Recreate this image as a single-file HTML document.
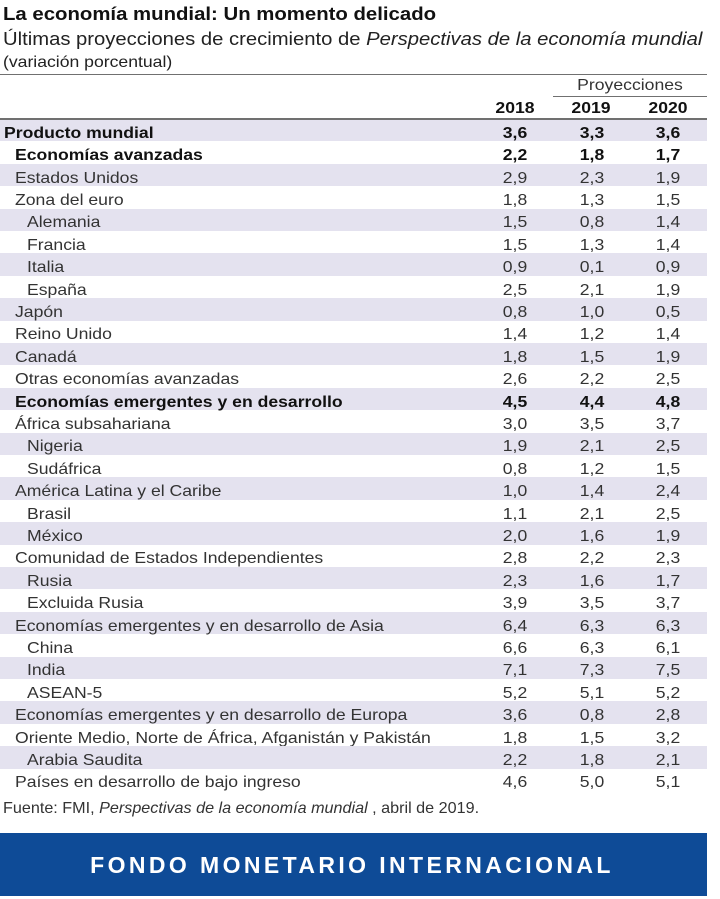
<!DOCTYPE html>
<html>
<head>
<meta charset="utf-8">
<style>
html,body{margin:0;padding:0;background:#fff;}
body{width:720px;height:899px;position:relative;overflow:hidden;font-family:"Liberation Sans",Arial,sans-serif;color:#333;}
.a{position:absolute;white-space:nowrap;line-height:1;}
.sx{transform:scaleX(1.1);transform-origin:0 0;}
.c{transform:translateX(-50%) scaleX(1.1);transform-origin:50% 0;}
.b{font-weight:bold;color:#111;}
.line{position:absolute;background:#707070;}
.banner{position:absolute;left:0;top:833px;width:707px;height:63px;background:#0e4b97;}
.r{position:absolute;left:0;width:707px;height:22.4px;font-size:16px;}
.s{background:#e4e2ef;}
.r span{position:absolute;top:6.8px;white-space:nowrap;line-height:1;}
.r .l{transform:scaleX(1.1);transform-origin:0 0;}
.r .n{transform:translateX(-50%) scaleX(1.1);transform-origin:50% 0;}
.x1{left:515px;}
.x2{left:592px;}
.x3{left:668px;}
.i0{left:4px;}
.i1{left:15px;}
.i2{left:27px;}
</style>
</head>
<body>
<div class="a sx b" style="left:3px;top:5.3px;font-size:18.5px;">La economía mundial: Un momento delicado</div>
<div class="a sx" style="left:3px;top:30.1px;font-size:18.4px;color:#222;">Últimas proyecciones de crecimiento de <i>Perspectivas de la economía mundial</i></div>
<div class="a sx" style="left:3px;top:54.5px;font-size:16px;color:#222;">(variación porcentual)</div>
<div class="line" style="left:0;top:73.5px;width:707px;height:1.5px;"></div>
<div class="a c" style="left:630px;top:78.2px;font-size:16px;">Proyecciones</div>
<div class="line" style="left:553px;top:95.5px;width:154px;height:1px;"></div>
<div class="a c b" style="left:515px;top:100.8px;font-size:16px;">2018</div>
<div class="a c b" style="left:591px;top:100.8px;font-size:16px;">2019</div>
<div class="a c b" style="left:668px;top:100.8px;font-size:16px;">2020</div>

<div class="r s b" style="top:119px"><span class="l i0">Producto mundial</span><span class="n x1">3,6</span><span class="n x2">3,3</span><span class="n x3">3,6</span></div>
<div class="r b" style="top:141.4px"><span class="l i1">Economías avanzadas</span><span class="n x1">2,2</span><span class="n x2">1,8</span><span class="n x3">1,7</span></div>
<div class="r s" style="top:163.8px"><span class="l i1">Estados Unidos</span><span class="n x1">2,9</span><span class="n x2">2,3</span><span class="n x3">1,9</span></div>
<div class="r" style="top:186.2px"><span class="l i1">Zona del euro</span><span class="n x1">1,8</span><span class="n x2">1,3</span><span class="n x3">1,5</span></div>
<div class="r s" style="top:208.6px"><span class="l i2">Alemania</span><span class="n x1">1,5</span><span class="n x2">0,8</span><span class="n x3">1,4</span></div>
<div class="r" style="top:231px"><span class="l i2">Francia</span><span class="n x1">1,5</span><span class="n x2">1,3</span><span class="n x3">1,4</span></div>
<div class="r s" style="top:253.4px"><span class="l i2">Italia</span><span class="n x1">0,9</span><span class="n x2">0,1</span><span class="n x3">0,9</span></div>
<div class="r" style="top:275.8px"><span class="l i2">España</span><span class="n x1">2,5</span><span class="n x2">2,1</span><span class="n x3">1,9</span></div>
<div class="r s" style="top:298.2px"><span class="l i1">Japón</span><span class="n x1">0,8</span><span class="n x2">1,0</span><span class="n x3">0,5</span></div>
<div class="r" style="top:320.6px"><span class="l i1">Reino Unido</span><span class="n x1">1,4</span><span class="n x2">1,2</span><span class="n x3">1,4</span></div>
<div class="r s" style="top:343px"><span class="l i1">Canadá</span><span class="n x1">1,8</span><span class="n x2">1,5</span><span class="n x3">1,9</span></div>
<div class="r" style="top:365.4px"><span class="l i1">Otras economías avanzadas</span><span class="n x1">2,6</span><span class="n x2">2,2</span><span class="n x3">2,5</span></div>
<div class="r s b" style="top:387.8px"><span class="l i1">Economías emergentes y en desarrollo</span><span class="n x1">4,5</span><span class="n x2">4,4</span><span class="n x3">4,8</span></div>
<div class="r" style="top:410.2px"><span class="l i1">África subsahariana</span><span class="n x1">3,0</span><span class="n x2">3,5</span><span class="n x3">3,7</span></div>
<div class="r s" style="top:432.6px"><span class="l i2">Nigeria</span><span class="n x1">1,9</span><span class="n x2">2,1</span><span class="n x3">2,5</span></div>
<div class="r" style="top:455px"><span class="l i2">Sudáfrica</span><span class="n x1">0,8</span><span class="n x2">1,2</span><span class="n x3">1,5</span></div>
<div class="r s" style="top:477.4px"><span class="l i1">América Latina y el Caribe</span><span class="n x1">1,0</span><span class="n x2">1,4</span><span class="n x3">2,4</span></div>
<div class="r" style="top:499.8px"><span class="l i2">Brasil</span><span class="n x1">1,1</span><span class="n x2">2,1</span><span class="n x3">2,5</span></div>
<div class="r s" style="top:522.2px"><span class="l i2">México</span><span class="n x1">2,0</span><span class="n x2">1,6</span><span class="n x3">1,9</span></div>
<div class="r" style="top:544.6px"><span class="l i1">Comunidad de Estados Independientes</span><span class="n x1">2,8</span><span class="n x2">2,2</span><span class="n x3">2,3</span></div>
<div class="r s" style="top:567px"><span class="l i2">Rusia</span><span class="n x1">2,3</span><span class="n x2">1,6</span><span class="n x3">1,7</span></div>
<div class="r" style="top:589.4px"><span class="l i2">Excluida Rusia</span><span class="n x1">3,9</span><span class="n x2">3,5</span><span class="n x3">3,7</span></div>
<div class="r s" style="top:611.8px"><span class="l i1">Economías emergentes y en desarrollo de Asia</span><span class="n x1">6,4</span><span class="n x2">6,3</span><span class="n x3">6,3</span></div>
<div class="r" style="top:634.2px"><span class="l i2">China</span><span class="n x1">6,6</span><span class="n x2">6,3</span><span class="n x3">6,1</span></div>
<div class="r s" style="top:656.6px"><span class="l i2">India</span><span class="n x1">7,1</span><span class="n x2">7,3</span><span class="n x3">7,5</span></div>
<div class="r" style="top:679px"><span class="l i2">ASEAN-5</span><span class="n x1">5,2</span><span class="n x2">5,1</span><span class="n x3">5,2</span></div>
<div class="r s" style="top:701.4px"><span class="l i1">Economías emergentes y en desarrollo de Europa</span><span class="n x1">3,6</span><span class="n x2">0,8</span><span class="n x3">2,8</span></div>
<div class="r" style="top:723.8px"><span class="l i1">Oriente Medio, Norte de África, Afganistán y Pakistán</span><span class="n x1">1,8</span><span class="n x2">1,5</span><span class="n x3">3,2</span></div>
<div class="r s" style="top:746.2px"><span class="l i2">Arabia Saudita</span><span class="n x1">2,2</span><span class="n x2">1,8</span><span class="n x3">2,1</span></div>
<div class="r" style="top:768.6px"><span class="l i1">Países en desarrollo de bajo ingreso</span><span class="n x1">4,6</span><span class="n x2">5,0</span><span class="n x3">5,1</span></div>

<div class="line" style="left:0;top:118px;width:707px;height:1.5px;"></div>

<div class="a" style="left:3px;top:800.5px;font-size:16px;color:#333;transform:scaleX(1.01);transform-origin:0 0;">Fuente: FMI, <i>Perspectivas de la economía mundial</i> , abril de 2019.</div>
<div class="banner"></div>
<div class="a" style="left:352px;top:853.5px;font-size:23px;font-weight:bold;color:#fff;letter-spacing:3.4px;transform:translateX(-50%);">FONDO MONETARIO INTERNACIONAL</div>
</body>
</html>
